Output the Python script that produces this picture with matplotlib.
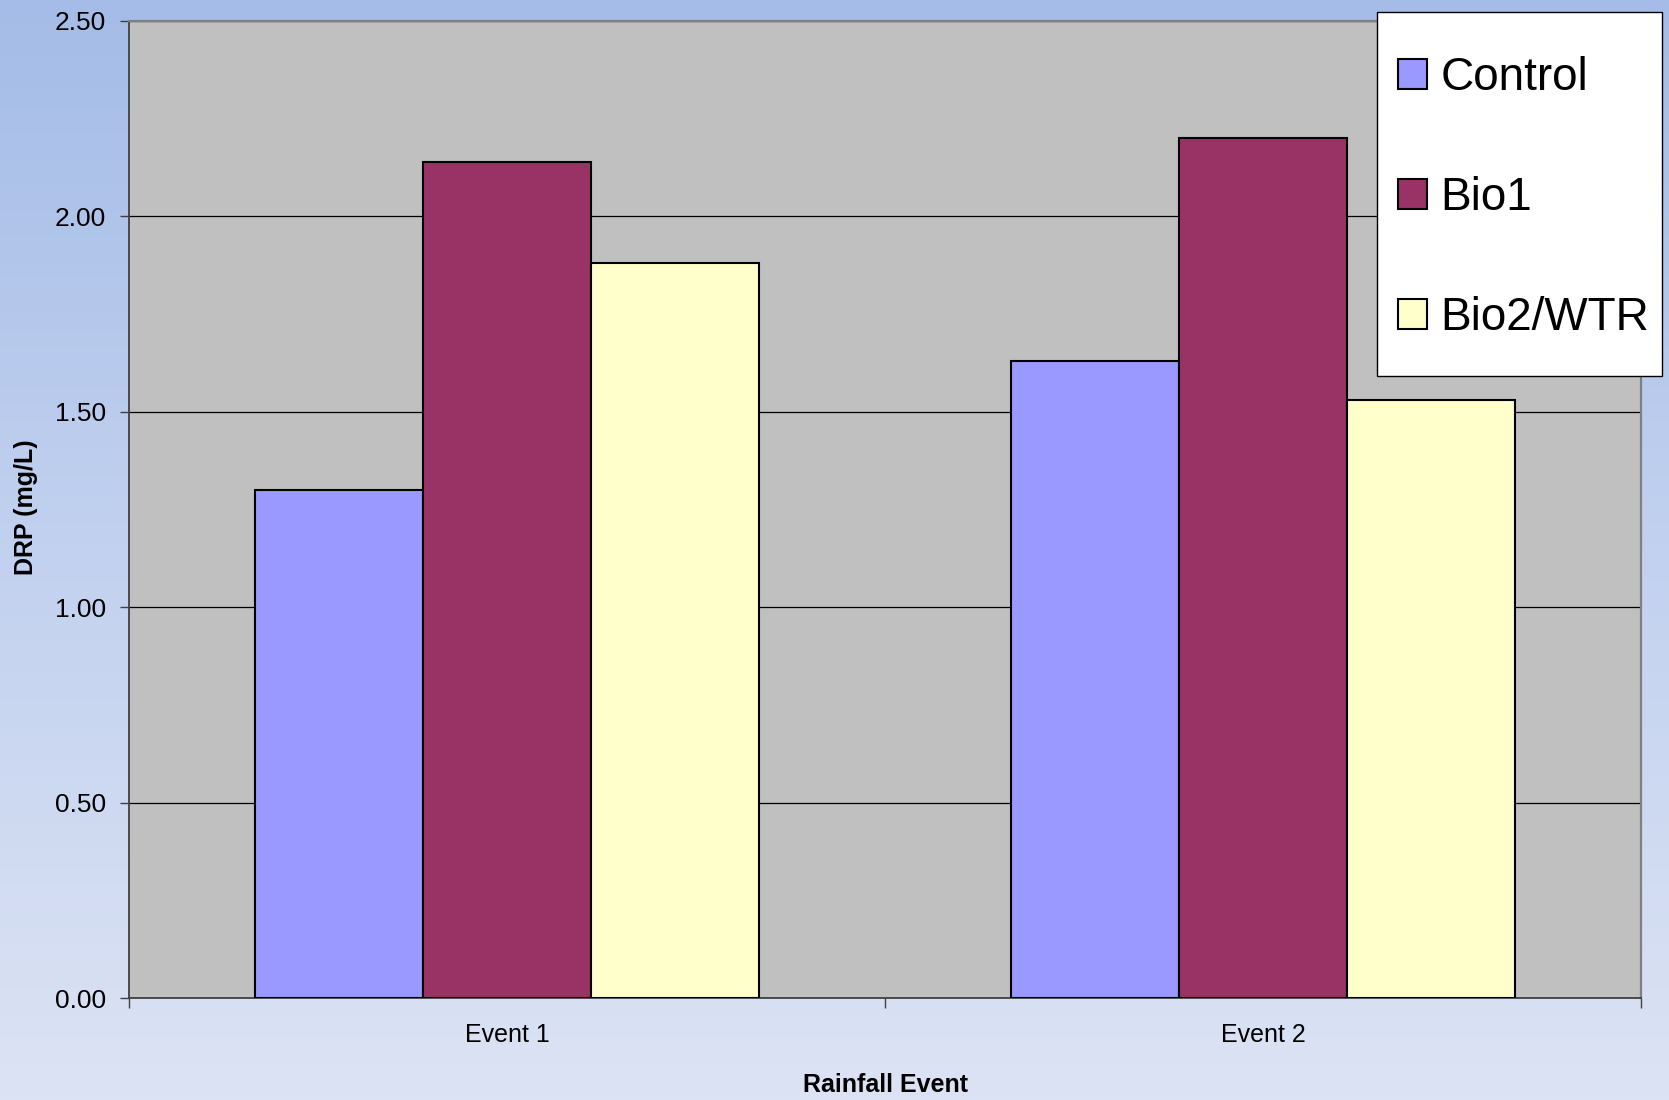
import numpy as np
import matplotlib
matplotlib.use("Agg")
import matplotlib.pyplot as plt
from matplotlib.colors import LinearSegmentedColormap
from matplotlib.patches import Rectangle

categories = ["Event 1", "Event 2"]
series_names = ["Control", "Bio1", "Bio2/WTR"]
control = [1.30, 1.63]
bio1 = [2.14, 2.20]
bio2_wtr = [1.88, 1.53]
yticks = [0.0, 0.5, 1.0, 1.5, 2.0, 2.5]
colors = ["#9999FF", "#993366", "#FFFFCC"]

plt.rcParams['font.family'] = ['Liberation Sans', 'DejaVu Sans']

W, H = 1669, 1100
fig = plt.figure(figsize=(W / 100, H / 100), dpi=100)

# background gradient
bg = fig.add_axes([0, 0, 1, 1], zorder=0)
cmap = LinearSegmentedColormap.from_list("bg", ["#A4BCE7", "#C2D1EF", "#DCE3F4"])
grad = np.linspace(0, 1, 256).reshape(-1, 1)
bg.imshow(grad, aspect='auto', cmap=cmap, extent=[0, 1, 0, 1], origin='upper')
bg.axis('off')

left, right, top, bottom = 129, 1641, 21, 998
ax = fig.add_axes([left / W, 1 - bottom / H, (right - left) / W, (bottom - top) / H], zorder=1)
ax.set_facecolor('#C0C0C0')

x = np.arange(len(categories))
w = 1 / 4.5
data = [control, bio1, bio2_wtr]
bars = []
for i, (vals, name, c) in enumerate(zip(data, series_names, colors)):
    b = ax.bar(x + (i - 1) * w, vals, width=w, color=c, edgecolor='black',
               linewidth=1.5, label=name, zorder=3)
    bars.append(b)

ax.set_xlim(-0.5, 1.5)
ax.set_ylim(0, 2.5)
ax.set_yticks(yticks)
ax.set_yticklabels([f"{v:.2f}" for v in yticks])
ax.yaxis.grid(True, color='black', linewidth=0.9)
ax.set_axisbelow(True)

ax.set_xticks(x)
ax.set_xticklabels(categories)
ax.set_xticks([-0.5, 0.5, 1.5], minor=True)
ax.tick_params(axis='x', which='major', length=0, labelsize=18, pad=18)
ax.tick_params(axis='x', which='minor', length=7, direction='out', width=1, color='#404040')
ax.tick_params(axis='y', length=6.3, width=1, labelsize=19, color='#404040', pad=10)

for s in ['left', 'bottom']:
    ax.spines[s].set_color('#404040')
    ax.spines[s].set_linewidth(1.3)
for s in ['top', 'right']:
    ax.spines[s].set_color('#808080')
    ax.spines[s].set_linewidth(1.6)

ax.set_xlabel("Rainfall Event", fontsize=18, fontweight='bold')
ax.xaxis.set_label_coords(0.5, -0.077)
ax.set_ylabel("DRP (mg/L)", fontsize=18, fontweight='bold')
ax.yaxis.set_label_coords(-0.068, 0.502)
ax.yaxis.label.set_va('center')

# legend box
box = Rectangle((1377 / W, 1 - 376 / H), 285 / W, 364 / H, transform=fig.transFigure,
                facecolor='white', edgecolor='black', linewidth=1.0, zorder=4)
fig.add_artist(box)
leg = fig.legend(handles=bars, labels=series_names, loc='upper left',
                 bbox_to_anchor=(1398 / W, 1 - 56 / H), frameon=False, borderpad=0,
                 borderaxespad=0, fontsize=33, handlelength=0.63, handleheight=0.63,
                 handletextpad=0.3, labelspacing=1.66)
leg.set_zorder(5)

fig.savefig("out.png", dpi=100)
